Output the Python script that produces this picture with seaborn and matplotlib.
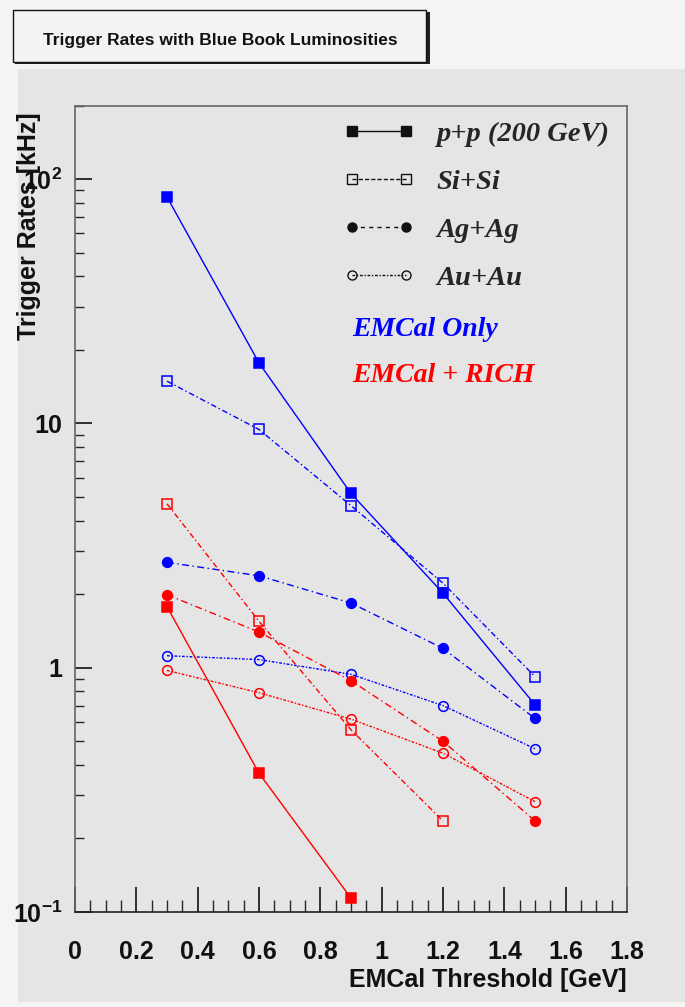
import numpy as np
import pandas as pd
import matplotlib
matplotlib.use("Agg")
import matplotlib.pyplot as plt
import seaborn as sns
from matplotlib.lines import Line2D
from matplotlib.patches import Rectangle
from matplotlib.ticker import FixedLocator, FixedFormatter, MultipleLocator, LogLocator, NullFormatter

# ---------------- data ----------------
thresholds = [0.3, 0.6, 0.9, 1.2, 1.5]
systems = ["p+p (200 GeV)", "Si+Si", "Ag+Ag", "Au+Au"]

# EMCal only (blue)
emcal_pp = [84.6, 17.7, 5.17, 2.02, 0.705]
emcal_si = [14.9, 9.45, 4.61, 2.22, 0.92]
emcal_ag = [2.70, 2.38, 1.84, 1.20, 0.62]
emcal_au = [1.12, 1.08, 0.94, 0.70, 0.466]

# EMCal + RICH (red)
rich_pp = [1.78, 0.37, 0.114]
rich_si = [4.69, 1.55, 0.557, 0.236]
rich_ag = [1.99, 1.40, 0.885, 0.50, 0.236]
rich_au = [0.975, 0.79, 0.616, 0.447, 0.283]

triggers = ["EMCal Only", "EMCal + RICH"]
trigger_colors = {"EMCal Only": "#0000ff", "EMCal + RICH": "#ff0000"}

xtick_labels = ["0", "0.2", "0.4", "0.6", "0.8", "1", "1.2", "1.4", "1.6", "1.8"]
ytick_labels = [r"$\mathbf{10^{-1}}$", "1", "10", r"$\mathbf{10^{2}}$"]

rows = []
for trig, series in [("EMCal Only", [emcal_pp, emcal_si, emcal_ag, emcal_au]),
                     ("EMCal + RICH", [rich_pp, rich_si, rich_ag, rich_au])]:
    for sysname, vals in zip(systems, series):
        for x, v in zip(thresholds, vals):
            rows.append({"trigger": trig, "system": sysname, "threshold": x, "rate": v})
df = pd.DataFrame(rows)

styles = {
    "p+p (200 GeV)": dict(marker="s", filled=True, ls="-", ms=7.5),
    "Si+Si": dict(marker="s", filled=False, ls=(0, (4, 2, 1, 2)), ms=7.5),
    "Ag+Ag": dict(marker="o", filled=True, ls=(0, (5, 2.5, 1, 2.5)), ms=7),
    "Au+Au": dict(marker="o", filled=False, ls=(0, (2, 1.2, 1, 1.2)), ms=7),
}
legend_ls = {
    "p+p (200 GeV)": "-",
    "Si+Si": (0, (3, 1.5)),
    "Ag+Ag": (0, (3, 3)),
    "Au+Au": (0, (2, 1.2, 1, 1.2)),
}

# ---------------- figure ----------------
sns.set_style("ticks")
plt.rcParams["font.family"] = ["Liberation Sans", "DejaVu Sans"]
plt.rcParams["mathtext.fontset"] = "custom"
plt.rcParams["mathtext.rm"] = "Liberation Sans:bold"
plt.rcParams["mathtext.bf"] = "Liberation Sans:bold"

W, H = 685, 1007
fig = plt.figure(figsize=(W / 100, H / 100), dpi=100, facecolor="#f4f4f4")

# gray panel
fig.patches.append(Rectangle((18 / W, 1 - 1002 / H), (W - 18) / W, (1002 - 69) / H,
                             transform=fig.transFigure, facecolor="#e5e5e5",
                             edgecolor="none", zorder=0))
# title box with shadow
fig.patches.append(Rectangle((15 / W, 1 - 64 / H), 415 / W, 52 / H,
                             transform=fig.transFigure, facecolor="#222222",
                             edgecolor="none", zorder=1))
fig.patches.append(Rectangle((13 / W, 1 - 62 / H), 413 / W, 52 / H,
                             transform=fig.transFigure, facecolor="#f3f3f3",
                             edgecolor="#111111", lw=1.0, zorder=2))
fig.text(220 / W, 1 - 41 / H, "Trigger Rates with Blue Book Luminosities",
         ha="center", va="center", fontsize=12.5, fontweight="bold", color="#111111", zorder=3)

ax = fig.add_axes([75 / W, 1 - 912 / H, (627 - 75) / W, (912 - 105.7) / H])
ax.set_zorder(5)
ax.set_facecolor("#e5e5e5")

for trig in triggers:
    col = trigger_colors[trig]
    for sysname in systems:
        st = styles[sysname]
        sub = df[(df.trigger == trig) & (df.system == sysname)]
        sns.lineplot(data=sub, x="threshold", y="rate", ax=ax, estimator=None, sort=False,
                     color=col, linestyle=st["ls"], lw=1.0, marker=st["marker"],
                     markersize=st["ms"], markeredgewidth=1.1, markeredgecolor=col,
                     markerfacecolor=col if st["filled"] else "none", legend=False)

ax.set_yscale("log")
ax.set_xlim(0, 1.8)
ax.set_ylim(0.1, 200)

xt = [float(s) for s in xtick_labels]
ax.xaxis.set_major_locator(FixedLocator(xt))
ax.xaxis.set_major_formatter(FixedFormatter(xtick_labels))
ax.xaxis.set_minor_locator(MultipleLocator(0.05))

yt = [0.1, 1, 10, 100]
ax.yaxis.set_major_locator(FixedLocator(yt))
ax.yaxis.set_major_formatter(FixedFormatter(ytick_labels))
ax.yaxis.set_minor_locator(LogLocator(base=10, subs=np.arange(2, 10)))
ax.yaxis.set_minor_formatter(NullFormatter())

ax.tick_params(axis="x", which="major", direction="in", length=18, width=1.2, pad=20,
               labelsize=18, colors="#111111", top=False)
ax.tick_params(axis="x", which="minor", direction="in", length=9, width=1.0, top=False)
ax.tick_params(axis="y", which="major", direction="in", length=12, width=1.2, pad=9,
               labelsize=18, colors="#111111", right=False)
ax.tick_params(axis="y", which="minor", direction="in", length=6.5, width=1.0, right=False)
for lab in ax.get_xticklabels() + ax.get_yticklabels():
    lab.set_fontweight("bold")

for s in ax.spines.values():
    s.set_visible(True)
    s.set_color("#666666")
    s.set_linewidth(1.2)
ax.spines["bottom"].set_color("#222222")

ax.set_xlabel("")
ax.set_ylabel("")
fig.text(627 / W, 1 - 980 / H, "EMCal Threshold [GeV]", ha="right", va="center",
         fontsize=18, fontweight="bold", color="#111111", zorder=6)
fig.text(29 / W, 1 - 226 / H, "Trigger Rates [kHz]", ha="center", va="center",
         rotation=90, fontsize=18, fontweight="bold", color="#111111", zorder=6)

# legend
handles = []
for sysname in systems:
    st = styles[sysname]
    handles.append(Line2D([], [], color="#111111", linestyle=legend_ls[sysname], lw=1.0,
                          marker=st["marker"], markersize=st["ms"] - 0.5,
                          markeredgecolor="#111111", markeredgewidth=1.0,
                          markerfacecolor="#111111" if st["filled"] else "none"))
leg = ax.legend(handles, systems, loc="upper left", bbox_to_anchor=(343 / W, 1 - 121 / H),
                bbox_transform=fig.transFigure, frameon=False, borderpad=0, borderaxespad=0,
                numpoints=2, handlelength=2.5, handletextpad=0.78, labelspacing=0.78,
                prop=dict(family="Liberation Serif", weight="bold", style="italic", size=20.5))

ax.text(352 / W, 1 - 329 / H, "EMCal Only", transform=fig.transFigure, ha="left", va="center",
        color="#0000ff", fontsize=20, family="Liberation Serif", fontweight="bold", style="italic")
ax.text(352 / W, 1 - 376 / H, "EMCal + RICH", transform=fig.transFigure, ha="left", va="center",
        color="#ff0000", fontsize=20, family="Liberation Serif", fontweight="bold", style="italic")

fig.savefig("out.png", dpi=100, facecolor=fig.get_facecolor())
